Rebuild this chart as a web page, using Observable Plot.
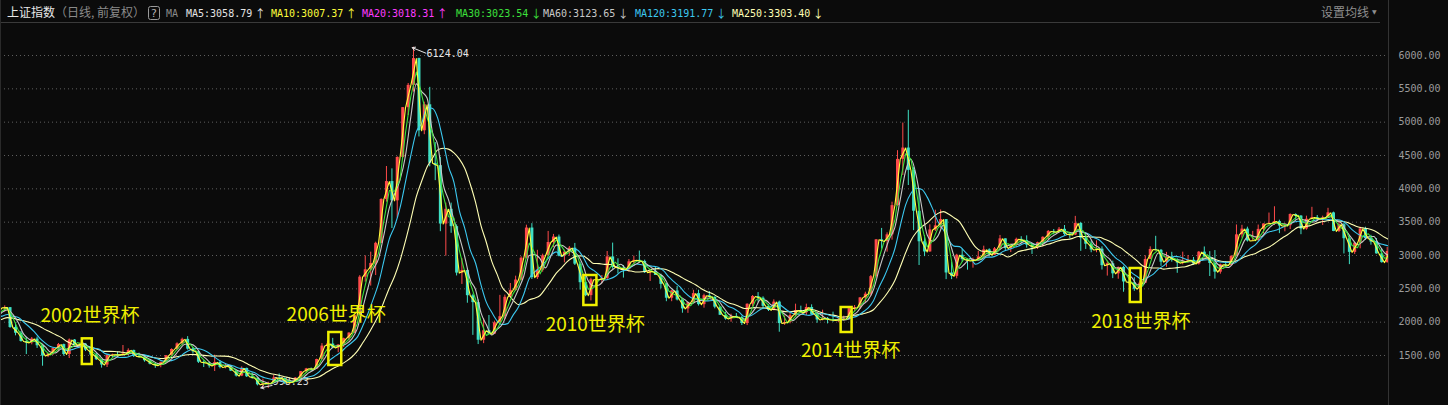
<!DOCTYPE html>
<html><head><meta charset="utf-8">
<script src="https://cdn.jsdelivr.net/npm/d3@7"></script>
<script src="https://cdn.jsdelivr.net/npm/@observablehq/plot@0.6"></script>
<style>
html,body{margin:0;padding:0;background:#0b0b0b;overflow:hidden;}
#wrap{position:relative;width:1448px;height:405px;overflow:hidden;background:#0b0b0b;}
#hdr{position:absolute;left:0;top:0;}
#chart{position:absolute;left:0;top:22px;}
.vline{position:absolute;top:0;width:1px;height:405px;background:#333;}
</style></head><body>
<div id="wrap">
  <svg id="hdr" width="1448" height="23"></svg>
  <div id="chart"></div>
  <div class="vline" style="left:1388px"></div>
  <div class="vline" style="left:0px;background:#2a2a2a"></div>
</div>
<script>
// ---- header (MA legend) ----
const maNames  = ["MA5","MA10","MA20","MA30","MA60","MA120","MA250"];
const maValues = ["3058.79","3007.37","3018.31","3023.54","3123.65","3191.77","3303.40"];
const maArrows = ["↑","↑","↑","↓","↓","↓","↓"];
const maColors = ["#e4e4e4","#ffff3c","#ff3cff","#3ce03c","#c8c8c8","#3cc8f0","#ffffb4"];
const maLegendX = [186,271,362,456,543,635,732];
// months of window per MA on monthly data (0 = not drawn separately)
const maWindowMonths = [0,1,0,2,3,6,12];

// ---- monthly OHLC of 上证指数, 2000-05 .. 2022-11 ----
const firstMonth = "2000-05-01";
const opens = [
 1836,1895,1928,2023,2100,1910,1961,2070,
 2073,2065,1959,2112,2119,2214,2218,1920,1834,1710,1689,1747,
 1646,1491,1524,1604,1664,1515,1732,1656,1670,1581,1507,1437,
 1357,1499,1511,1510,1521,1576,1487,1476,1421,1367,1348,1397,
 1497,1590,1675,1742,1595,1555,1399,1386,1342,1396,1320,1340,
 1266,1191,1306,1181,1159,1060,1080,1083,1162,1155,1092,1099,
 1161,1258,1299,1298,1440,1641,1672,1612,1658,1752,1837,2099,
 2675,2786,2881,3183,3841,4109,3820,4471,5218,5552,5954,4871,
 5261,4383,4348,3472,3693,3433,2736,2775,2397,2293,1729,1871,
 1821,1991,2082,2373,2477,2632,2959,3412,2668,2779,2996,3195,
 3277,2989,3051,3110,2870,2592,2398,2637,2638,2656,2979,2820,
 2808,2790,2905,2928,2911,2743,2762,2701,2567,2359,2468,2333,
 2199,2292,2428,2263,2397,2373,2225,2103,2047,2086,2069,1980,
 2269,2385,2359,2237,2178,2301,1979,1994,2098,2175,2141,2220,
 2116,2033,2056,2033,2026,2039,2048,2202,2217,2364,2420,2683,
 3235,3210,3310,3748,4442,4612,4277,3664,3206,3053,3383,3445,
 3539,2738,2688,3004,2938,2917,2930,2979,3085,3005,3100,3250,
 3104,3159,3242,3223,3155,3117,3192,3273,3361,3349,3393,3317,
 3307,3481,3259,3169,3082,3095,2847,2876,2725,2821,2603,2588,
 2494,2585,2941,3091,3078,2899,2979,2933,2886,2905,2929,2872,
 3050,2977,2880,2750,2860,2852,2985,3310,3396,3218,3225,3392,
 3473,3483,3509,3442,3447,3615,3591,3397,3544,3568,3547,3564,
 3640,3361,3462,3252,3047,3186,3399,3253,3202,3024,2893
];
const highs = [
 1910,1930,2030,2114,2100,1980,2076,2125,
 2131,2070,2120,2186,2232,2245,2220,1987,1860,1772,1770,1776,
 1650,1530,1613,1680,1670,1748,1740,1690,1680,1590,1530,1440,
 1510,1520,1555,1650,1600,1580,1535,1480,1440,1390,1400,1500,
 1600,1690,1760,1783,1620,1570,1420,1400,1505,1420,1380,1350,
 1270,1330,1310,1240,1160,1146,1100,1200,1223,1160,1112,1170,
 1260,1307,1312,1445,1678,1712,1757,1660,1760,1840,2100,2698,
 2994,3050,3200,3850,4335,4300,4480,5218,5580,6124,5960,5300,
 5522,4695,4473,3786,3786,3460,2952,2800,2420,2333,2052,2100,
 2015,2402,2406,2580,2690,2980,3455,3478,3078,3020,3361,3316,
 3307,3080,3135,3181,2900,2690,2660,2705,2700,3060,3186,2950,
 2850,2940,2990,3067,2930,2775,2826,2720,2580,2476,2536,2340,
 2300,2478,2479,2420,2460,2380,2230,2150,2120,2130,2090,2275,
 2400,2444,2380,2260,2335,2315,2093,2150,2270,2240,2270,2260,
 2125,2180,2070,2150,2060,2090,2230,2250,2370,2450,2700,3239,
 3406,3340,3800,4572,4986,5178,4317,4000,3300,3460,3679,3684,
 3539,2900,3018,3097,2950,2960,3060,3140,3100,3120,3301,3250,
 3173,3260,3282,3295,3170,3200,3280,3375,3390,3420,3450,3320,
 3587,3495,3333,3220,3220,3130,2915,2915,2827,2838,2703,2666,
 2618,2995,3130,3288,3090,3047,3048,2950,3050,3000,2970,3060,
 3128,3058,3074,2871,2910,3000,3458,3453,3425,3362,3457,3474,
 3637,3731,3530,3480,3625,3625,3600,3590,3723,3600,3590,3708,
 3651,3511,3480,3282,3187,3424,3424,3303,3255,3100,3120
];
const lows = [
 1830,1850,1925,2010,1880,1900,1950,2030,
 1990,1894,1930,2090,2110,2150,1907,1795,1700,1514,1660,1606,
 1339,1468,1500,1570,1490,1455,1620,1600,1560,1490,1425,1311,
 1320,1470,1470,1490,1500,1470,1460,1400,1358,1308,1316,1380,
 1490,1580,1650,1580,1520,1380,1320,1310,1260,1300,1300,1259,
 1177,1183,1170,1145,1044,998,1004,1075,1130,1068,1074,1095,
 1160,1230,1262,1290,1430,1560,1600,1541,1620,1720,1830,2090,
 2600,2541,2700,3180,3800,3404,3563,4450,5100,5450,4778,4812,
 4330,4123,3357,2990,3333,2693,2566,2284,1802,1664,1678,1814,
 1814,1990,2037,2360,2460,2620,2950,2640,2640,2750,2990,3120,
 2980,2890,2990,2850,2481,2382,2319,2581,2575,2640,2793,2724,
 2661,2750,2861,2890,2730,2610,2700,2500,2307,2307,2319,2134,
 2132,2280,2242,2210,2356,2200,2100,2030,1999,2060,1950,1949,
 2230,2300,2200,2160,2170,1849,1951,1975,2080,2130,2100,2110,
 1984,2020,1974,2000,1991,2010,2030,2160,2190,2290,2390,2660,
 3095,3050,3230,3740,4200,4050,3373,2850,2983,3050,3360,3400,
 2638,2638,2650,2900,2780,2810,2930,2970,2980,3000,3100,3060,
 3044,3130,3180,3110,3016,3091,3130,3240,3310,3340,3300,3254,
 3300,3062,3091,3041,3041,2782,2691,2653,2644,2449,2560,2463,
 2440,2580,2940,3070,2838,2822,2900,2733,2860,2890,2856,2857,
 2970,2685,2646,2720,2818,2845,2984,3260,3202,3218,3210,3325,
 3460,3450,3328,3355,3390,3530,3312,3380,3540,3515,3450,3560,
 3357,3344,3023,2863,3016,3100,3226,3155,3021,2885,2886
];
const closes = [
 1895,1928,2023,2100,1910,1961,2070,2073,
 2065,1959,2112,2119,2214,2218,1920,1834,1710,1689,1747,1646,
 1491,1524,1604,1664,1515,1732,1656,1670,1581,1507,1437,1357,
 1499,1511,1510,1521,1576,1487,1476,1421,1367,1348,1397,1497,
 1590,1675,1742,1595,1555,1399,1386,1342,1396,1320,1340,1266,
 1191,1306,1181,1159,1060,1080,1083,1162,1155,1092,1099,1161,
 1258,1299,1298,1440,1641,1672,1612,1658,1752,1837,2099,2675,
 2786,2881,3183,3841,4109,3820,4471,5218,5552,5954,4871,5261,
 4383,4348,3472,3693,3433,2736,2775,2397,2293,1729,1871,1821,
 1991,2082,2373,2477,2632,2959,3412,2668,2779,2996,3195,3277,
 2989,3051,3110,2870,2592,2398,2637,2638,2656,2979,2820,2808,
 2790,2905,2928,2911,2743,2762,2701,2567,2359,2468,2333,2199,
 2292,2428,2263,2397,2373,2225,2103,2047,2086,2069,1980,2269,
 2385,2359,2237,2178,2301,1979,1994,2098,2175,2141,2220,2116,
 2033,2056,2033,2026,2039,2048,2202,2217,2364,2420,2683,3235,
 3210,3310,3748,4442,4612,4277,3664,3206,3053,3383,3445,3539,
 2738,2688,3004,2938,2917,2930,2979,3085,3005,3100,3250,3104,
 3159,3242,3223,3155,3117,3192,3273,3361,3349,3393,3317,3307,
 3481,3259,3169,3082,3095,2847,2876,2725,2821,2603,2588,2494,
 2585,2941,3091,3078,2899,2979,2933,2886,2905,2929,2872,3050,
 2977,2880,2750,2860,2852,2985,3310,3396,3218,3225,3392,3473,
 3483,3509,3442,3447,3615,3591,3397,3544,3568,3547,3564,3640,
 3361,3462,3252,3047,3186,3399,3253,3202,3024,2893,3060
];

// ---- axis ----
const yTicks = [1500,2000,2500,3000,3500,4000,4500,5000,5500,6000];
const yDomain = [750, 6495];
const xDomain = ["2001-05-22","2022-11-28"];

// ---- annotations ----
const wcLabels     = ["2002世界杯","2006世界杯","2010世界杯","2014世界杯","2018世界杯"];
const wcLabelDate  = ["2002-01-03","2005-10-27","2009-11-01","2013-10-16","2018-04-15"];
const wcLabelValue = [2092, 2115, 1965, 1575, 2010];
const wcBoxStart   = ["2002-08-28","2006-06-23","2010-06-05","2014-05-31","2018-11-22"];
const wcBoxEnd     = ["2002-10-23","2006-09-04","2010-08-18","2014-08-01","2019-01-23"];
const wcBoxLow     = [1365, 1350, 2250, 1845, 2295];
const wcBoxHigh    = [1750, 1845, 2700, 2220, 2805];
const extremeLabels = ["6124.04", "998.23"];
const extremeLabelDate = ["2007-12-28", "2005-08-09"];
const extremeLabelValue = [6030, 1110];
const extremeArrowFromDate = ["2007-12-24", "2005-08-06"];
const extremeArrowFromValue = [6035, 1050];
const extremeArrowToDate = ["2007-10-08", "2005-06-03"];
const extremeArrowToValue = [6118, 1015];

// ---- header drawing ----
const hdr = d3.select("#hdr");
hdr.append("line").attr("x1",0).attr("x2",1380).attr("y1",22.5).attr("y2",22.5).attr("stroke","#3a3a3a");
hdr.append("text").attr("x",7).attr("y",16.5).attr("fill","#e8e8e8")
  .style("font","12px 'Noto Sans CJK SC'").text("上证指数");
hdr.append("text").attr("x",55).attr("y",16.5).attr("fill","#8a8a8a")
  .style("font","12px 'Noto Sans CJK SC'").text("（日线, 前复权）");
hdr.append("rect").attr("x",148.5).attr("y",6.5).attr("width",11).attr("height",13).attr("rx",2)
  .attr("fill","none").attr("stroke","#9a9a9a");
hdr.append("text").attr("x",154).attr("y",17).attr("text-anchor","middle").attr("fill","#b0b0b0")
  .style("font","11px 'DejaVu Sans'").text("?");
hdr.append("text").attr("x",166).attr("y",17).attr("fill","#8a8a8a")
  .style("font","10px 'DejaVu Sans Mono'").text("MA");
maNames.forEach((n,i)=>{
  const label = `${n}:${maValues[i]}`;
  hdr.append("text").attr("x",maLegendX[i]).attr("y",17).attr("fill",maColors[i])
    .style("font","10px 'DejaVu Sans Mono'").text(label);
  hdr.append("text").attr("x",maLegendX[i] + label.length*6.02 + 2.5).attr("y",17.5).attr("fill",maColors[i])
    .style("font","11px 'Noto Sans CJK SC'").text(maArrows[i]);
});
hdr.append("text").attr("x",1321).attr("y",16.5).attr("fill","#8f8f8f")
  .style("font","12px 'Noto Sans CJK SC'").text("设置均线");
hdr.append("text").attr("x",1372).attr("y",14).attr("fill","#8f8f8f")
  .style("font","6px 'DejaVu Sans'").text("▼");

// ---- data table ----
const start = new Date(firstMonth);
const months = d3.utcMonth.range(start, d3.utcMonth.offset(start, closes.length));
const rows = months.map((m,i)=>({
  mid: d3.utcDay.offset(m, 14),
  end: d3.utcDay.offset(d3.utcMonth.offset(m,1), -1),
  open: opens[i], high: highs[i], low: lows[i], close: closes[i]
}));

const up = "#ff4b4b", down = "#3fe0c4";
const col = d => d.close >= d.open ? up : down;

const maMarks = [];
[6,5,4,3,1].forEach(i=>{
  const k = maWindowMonths[i];
  maMarks.push(Plot.line(rows, Plot.windowY({k, anchor:"end", reduce:"mean"},
    {x:"end", y:"close", stroke: maColors[i], strokeWidth: 1.1, curve: k>2 ? "monotone-x" : "linear", clip:true})));
});

const chart = Plot.plot({
  width: 1448, height: 383,
  marginLeft: 0, marginRight: 59, marginTop: 0, marginBottom: 0,
  x: {type:"utc", domain: xDomain.map(d=>new Date(d)), axis: null},
  y: {domain: yDomain, axis: "right", ticks: yTicks, tickFormat: d=>d.toFixed(2),
      tickSize: 0, tickPadding: 9, label: null},
  style: {background:"transparent", color:"#9c9c9c", fontFamily:"'DejaVu Sans Mono'", fontSize:"10px"},
  marks: [
    Plot.ruleY(yTicks, {stroke:"#5e5e5e", strokeDasharray:"1,3", strokeWidth:1}),
    Plot.text([1], {x:()=>new Date(extremeLabelDate[1]), y:()=>extremeLabelValue[1], text:()=>extremeLabels[1],
      textAnchor:"start", fill:"#d8d8d8", fontSize:10, fontFamily:"DejaVu Sans Mono"}),
    Plot.ruleX(rows, {x:"mid", y1:"low", y2:"high", stroke: col, strokeWidth: 1, clip:true}),
    Plot.ruleX(rows, {x:"mid", y1:"open", y2:"close", stroke: col, strokeWidth: 3, clip:true}),
    ...maMarks,
    Plot.arrow([0,1], {x1:i=>new Date(extremeArrowFromDate[i]), y1:i=>extremeArrowFromValue[i],
      x2:i=>new Date(extremeArrowToDate[i]), y2:i=>extremeArrowToValue[i],
      stroke:"#e6e6e6", strokeWidth:1, headLength:5}),
    Plot.text([0], {x:()=>new Date(extremeLabelDate[0]), y:()=>extremeLabelValue[0], text:()=>extremeLabels[0],
      textAnchor:"start", fill:"#e6e6e6", fontSize:10, fontFamily:"DejaVu Sans Mono"}),
    Plot.rect(wcLabels, {x1:(d,i)=>new Date(wcBoxStart[i]), x2:(d,i)=>new Date(wcBoxEnd[i]),
      y1:(d,i)=>wcBoxLow[i], y2:(d,i)=>wcBoxHigh[i], fill:"none", stroke:"#f0f000", strokeWidth:2.5}),
    Plot.text(wcLabels, {x:(d,i)=>new Date(wcLabelDate[i]), y:(d,i)=>wcLabelValue[i], text:d=>d,
      textAnchor:"start", fill:"#f0f000", fontSize:19, fontFamily:"Noto Sans CJK SC"})
  ]
});
document.getElementById("chart").appendChild(chart);
</script>
</body></html>
